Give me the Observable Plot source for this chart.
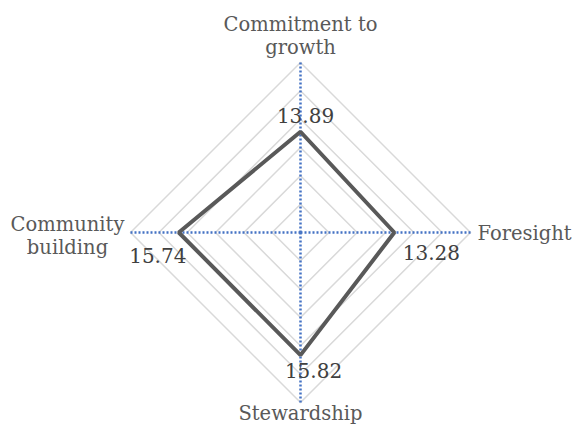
<!DOCTYPE html>
<html><head><meta charset="utf-8">
<script src="https://cdn.jsdelivr.net/npm/d3@7"></script>
<script src="https://cdn.jsdelivr.net/npm/@observablehq/plot@0.6"></script>
<style>body{margin:0;background:#fff}</style>
</head><body><div id="chart"></div>
<script>
const categories = ["Commitment to\ngrowth", "Foresight", "Stewardship", "Community\nbuilding"];
const values = [13.89, 13.28, 15.82, 15.74];
const ringTicks = [7.5, 10, 12.5, 15, 17.5, 20];
const axisMin = 5, axisMax = 20;

const R = 170;
const cx = 300, cy = 232, W = 580, H = 428;
const norm = v => (v - axisMin) / (axisMax - axisMin);
const ang = i => i * Math.PI / 2;
const px = (i, v) => Math.sin(ang(i)) * norm(v);
const py = (i, v) => Math.cos(ang(i)) * norm(v);

const rings = ringTicks.flatMap(t => categories.map((c, i) => ({t, x: px(i, t), y: py(i, t)})));
const spokes = categories.map((c, i) => ({x1: 0, y1: 0, x2: px(i, axisMax), y2: py(i, axisMax)}));
const pts = values.map((v, i) => ({x: px(i, v), y: py(i, v), v}));

const valOff = [[5, -15], [37, 21], [13, 16], [-21, 24]];
const catOff = [[0, -27, "middle"], [7, 0, "start"], [0, 10, "middle"], [-63, 3, "middle"]];

const font = "DejaVu Serif";
const marks = [
  Plot.line(rings, {x: "x", y: "y", z: "t", curve: "linear-closed", stroke: "#d9d9d9", strokeWidth: 1.5}),
  Plot.link(spokes, {x1: "x1", y1: "y1", x2: "x2", y2: "y2", stroke: "#4472c4", strokeWidth: 2.5, strokeDasharray: "2,2"}),
  Plot.line(pts, {x: "x", y: "y", curve: "linear-closed", stroke: "#595959", strokeWidth: 4, strokeLinejoin: "miter"}),
  ...pts.map((p, i) => Plot.text([p], {x: "x", y: "y", text: d => d.v.toFixed(2), dx: valOff[i][0], dy: valOff[i][1], fill: "#404040", fontSize: 20, fontFamily: font})),
  ...categories.map((c, i) => Plot.text([{x: px(i, axisMax), y: py(i, axisMax), c}], {x: "x", y: "y", text: "c", dx: catOff[i][0], dy: catOff[i][1], textAnchor: catOff[i][2], lineHeight: 23/19.5, fill: "#595959", fontSize: 19.5, fontFamily: font}))
];

const chart = Plot.plot({
  width: W, height: H, margin: 0,
  x: {domain: [-cx / R, (W - cx) / R], range: [0, W], axis: null},
  y: {domain: [-(H - cy) / R, cy / R], range: [H, 0], axis: null},
  style: {background: "#fff", overflow: "visible"},
  marks
});
document.getElementById("chart").appendChild(chart);
</script></body></html>
